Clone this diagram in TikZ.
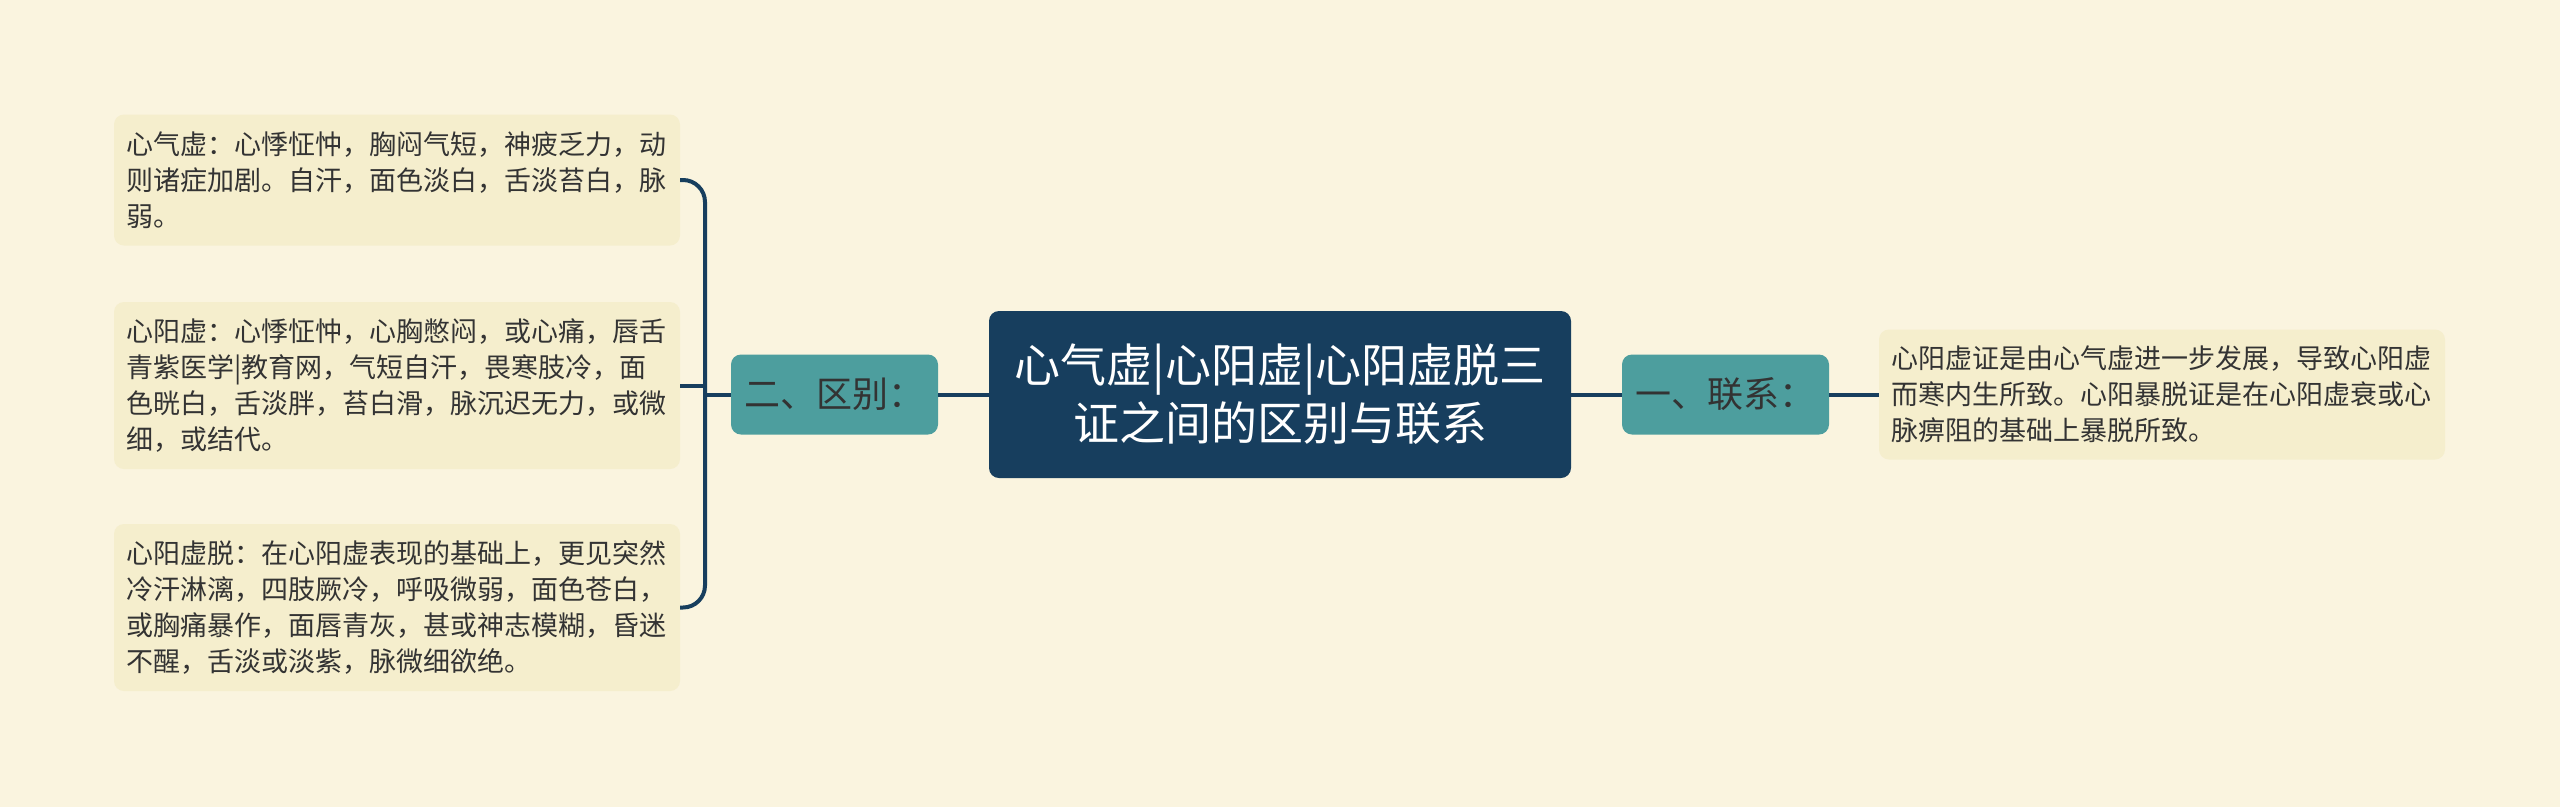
\documentclass[tikz,border=0pt]{standalone}
\usepackage{fontspec}
\setmainfont{Noto Sans CJK SC}
\definecolor{bgc}{HTML}{FAF4DF}
\definecolor{leafc}{HTML}{F5EECD}
\definecolor{navy}{HTML}{173E5E}
\definecolor{tealc}{HTML}{4D9E9E}
\definecolor{txtc}{HTML}{333333}
\begin{document}
\begin{tikzpicture}[x=1pt,y=-1pt,
  leaf/.style={fill=leafc, rounded corners=10pt, text=txtc, align=left,
    text width=542pt, inner xsep=12pt, inner ysep=0pt,
    font=\fontsize{27}{36}\selectfont},
  mid/.style={fill=tealc, rounded corners=10pt, text=black!80, minimum width=207pt,
    minimum height=80pt, inner sep=0pt, font=\fontsize{36}{40}\selectfont},
  root/.style={fill=navy, rounded corners=10pt, text=white, align=center,
    minimum width=582pt, minimum height=167pt, inner sep=0pt,
    font=\fontsize{46}{58}\selectfont},
  conn/.style={draw=navy, line width=4pt}]
\useasboundingbox (0,0) rectangle (2560,807);
\fill[bgc] (0,0) rectangle (2560,807);

\node[root] (root) at (1280,394.5) {心气虚|心阳虚|心阳虚脱三\\证之间的区别与联系};
\node[mid] (n2) at (834.5,394.5) {二、区别：};
\node[mid] (n1) at (1725.5,394.5) {一、联系：};

\node[leaf, minimum height=131pt] (l1) at (397,180) {心气虚：心悸怔忡，胸闷气短，神疲乏力，动\\则诸症加剧。自汗，面色淡白，舌淡苔白，脉\\弱。};
\node[leaf, minimum height=167pt] (l2) at (397,385.5) {心阳虚：心悸怔忡，心胸憋闷，或心痛，唇舌\\青紫医学|教育网，气短自汗，畏寒肢冷，面\\色晄白，舌淡胖，苔白滑，脉沉迟无力，或微\\细，或结代。};
\node[leaf, minimum height=167pt] (l3) at (397,607.5) {心阳虚脱：在心阳虚表现的基础上，更见突然\\冷汗淋漓，四肢厥冷，呼吸微弱，面色苍白，\\或胸痛暴作，面唇青灰，甚或神志模糊，昏迷\\不醒，舌淡或淡紫，脉微细欲绝。};
\node[leaf, minimum height=130pt] (r1) at (2162,394.5) {心阳虚证是由心气虚进一步发展，导致心阳虚\\而寒内生所致。心阳暴脱证是在心阳虚衰或心\\脉痹阻的基础上暴脱所致。};

\coordinate (bx) at (705,394.5);
\draw[conn] (root.west) -- (n2.east);
\draw[conn] (n2.west) -- (bx);
\draw[conn, rounded corners=22pt] (l1.east) -| (bx) |- (l3.east);
\draw[conn] (l2.east) -- (l2.east -| bx);
\draw[conn] (root.east) -- (n1.west);
\draw[conn] (n1.east) -- (r1.west);
\end{tikzpicture}
\end{document}
